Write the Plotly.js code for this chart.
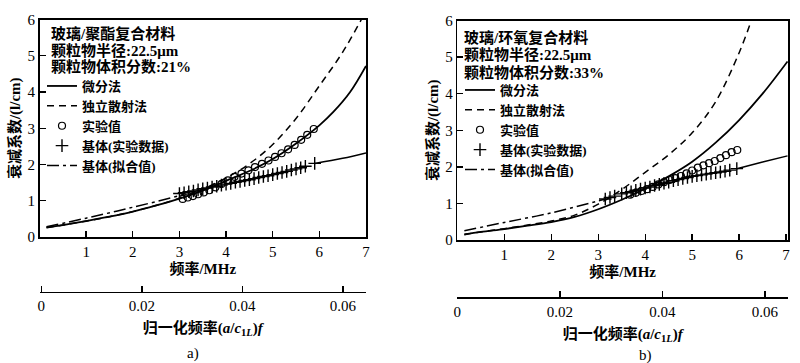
<!DOCTYPE html>
<html>
<head>
<meta charset="utf-8">
<script src="https://cdn.plot.ly/plotly-3.0.1.min.js"></script>
<style>html,body{margin:0;padding:0;background:#fff;}#chart{width:800px;height:363px;}</style>
</head>
<body>
<div id="chart"></div>
<script>
// ---------- Data ----------
// Panel a) glass / polyester, volume fraction 21%
const fA_diff = [0.15,0.5,1,1.5,2,2.5,3,3.5,4,4.5,5,5.5,6,6.3,6.66,7.0];
const aA_diff = [0.26,0.33,0.44,0.56,0.70,0.87,1.06,1.28,1.55,1.82,2.15,2.58,3.08,3.45,4.0,4.72];
const fA_ind  = [0.15,0.5,1,1.5,2,2.5,3,3.5,4,4.5,5,5.5,6,6.5,6.9];
const aA_ind  = [0.26,0.33,0.44,0.56,0.70,0.87,1.07,1.32,1.63,2.02,2.55,3.27,4.17,5.1,6.0];
const fA_exp  = [3.07,3.18,3.29,3.40,3.52,3.64,3.77,3.90,4.04,4.18,4.33,4.48,4.62,4.77,4.91,5.05,5.19,5.33,5.47,5.61,5.74,5.88];
const aA_exp  = [1.05,1.09,1.13,1.18,1.23,1.29,1.37,1.46,1.56,1.66,1.75,1.84,1.93,2.02,2.11,2.21,2.31,2.42,2.54,2.68,2.82,2.98];
const fA_mat  = [3.0,3.1,3.2,3.3,3.4,3.5,3.6,3.7,3.8,3.9,4.0,4.1,4.2,4.3,4.4,4.5,4.6,4.7,4.8,4.9,5.0,5.1,5.2,5.3,5.4,5.5,5.6,5.7,5.9];
const aA_mat  = [1.20,1.22,1.25,1.27,1.30,1.33,1.35,1.38,1.40,1.43,1.46,1.48,1.51,1.53,1.56,1.58,1.61,1.64,1.67,1.69,1.72,1.75,1.78,1.81,1.85,1.88,1.91,1.95,2.03];
const fA_fit  = [0.15,1,2,3,3.1];
const aA_fit  = [0.28,0.52,0.82,1.14,1.18];
const fA_fitEnd = [5.9,6.5,7.0];
const aA_fitEnd = [2.03,2.17,2.32];

// Panel b) glass / epoxy, volume fraction 33%
const fB_diff = [0.15,0.5,1,1.5,2,2.5,3,3.5,4,4.5,5,5.5,6,6.5,7.03];
const aB_diff = [0.15,0.22,0.30,0.39,0.49,0.63,0.84,1.10,1.40,1.74,2.14,2.66,3.28,4.0,4.88];
const fB_ind  = [0.15,0.5,1,1.5,2,2.5,3,3.5,4,4.5,5,5.5,6,6.26];
const aB_ind  = [0.15,0.22,0.31,0.41,0.52,0.68,0.98,1.38,1.85,2.33,2.93,3.78,5.12,6.0];
const fB_exp  = [3.68,3.80,3.92,4.04,4.16,4.28,4.40,4.52,4.64,4.76,4.88,5.00,5.12,5.24,5.36,5.48,5.60,5.72,5.84,5.96];
const aB_exp  = [1.24,1.29,1.34,1.39,1.45,1.52,1.58,1.64,1.69,1.75,1.82,1.90,1.98,2.04,2.10,2.16,2.24,2.32,2.40,2.46];
const fB_mat  = [3.15,3.25,3.35,3.5,3.6,3.7,3.8,3.9,4.0,4.1,4.2,4.3,4.4,4.5,4.6,4.7,4.8,4.9,5.0,5.1,5.2,5.3,5.4,5.5,5.6,5.7,5.8,5.95];
const aB_mat  = [1.12,1.16,1.20,1.26,1.29,1.32,1.36,1.39,1.42,1.45,1.49,1.52,1.55,1.58,1.62,1.65,1.68,1.71,1.74,1.76,1.78,1.80,1.82,1.84,1.86,1.88,1.91,1.95];
const fB_fit  = [0.15,1,2,3,3.15];
const aB_fit  = [0.25,0.48,0.74,1.07,1.12];
const fB_fitEnd = [5.95,6.5,7.03];
const aB_fitEnd = [1.95,2.13,2.30];

// Tick labels
const freqTicks = [1,2,3,4,5,6,7];
const attTicks  = [0,1,2,3,4,5,6];
const normTicks = [0,0.02,0.04,0.06];
const normTickText = ['0','0.02','0.04','0.06'];

// Texts
const names = ['微分法','独立散射法','实验值','基体(实验数据)','基体(拟合值)'];
const headA = ['玻璃/聚酯复合材料','颗粒物半径:22.5μm','颗粒物体积分数:21%'];
const headB = ['玻璃/环氧复合材料','颗粒物半径:22.5μm','颗粒物体积分数:33%'];
const xTitle = '频率/MHz';
const yTitle = '衰减系数/(l/cm)';
const nTitle = '归一化频率(<i>a</i>/<i>c</i><sub>1<i>L</i></sub>)<i>f</i>';

// ---------- Styling ----------
const FONT = '"Liberation Serif", "Noto Sans CJK SC", serif';
const CJK = '"Liberation Serif", "Noto Sans CJK SC", serif';
const BLACK = '#000';

function panelTraces(xa, ya, lg, d) {
  const common = {xaxis: xa, yaxis: ya, legend: lg, type: 'scatter', hoverinfo: 'skip'};
  return [
    Object.assign({}, common, {x: d.fDiff, y: d.aDiff, mode: 'lines', name: names[0],
      line: {color: BLACK, width: 1.8, shape: 'spline'}}),
    Object.assign({}, common, {x: d.fInd, y: d.aInd, mode: 'lines', name: names[1],
      line: {color: BLACK, width: 1.5, dash: '7px,5px', shape: 'spline'}}),
    Object.assign({}, common, {x: d.fExp, y: d.aExp, mode: 'markers', name: names[2],
      marker: {symbol: 'circle-open', size: 7, color: BLACK, line: {width: 1.2, color: BLACK}}}),
    Object.assign({}, common, {x: d.fMat, y: d.aMat, mode: 'markers', name: names[3],
      marker: {symbol: 'cross-thin-open', size: 9, color: BLACK, line: {width: 1.4, color: BLACK}}}),
    Object.assign({}, common, {x: d.fFit, y: d.aFit, mode: 'lines', name: names[4],
      line: {color: BLACK, width: 1.5, dash: '12px,4px,3px,4px', shape: 'spline'}}),
    Object.assign({}, common, {x: d.fFitEnd, y: d.aFitEnd, mode: 'lines', showlegend: false,
      line: {color: BLACK, width: 1.5, shape: 'spline'}})
  ];
}

const traces = [].concat(
  panelTraces('x', 'y', 'legend', {fDiff: fA_diff, aDiff: aA_diff, fInd: fA_ind, aInd: aA_ind,
    fExp: fA_exp, aExp: aA_exp, fMat: fA_mat, aMat: aA_mat, fFit: fA_fit, aFit: aA_fit,
    fFitEnd: fA_fitEnd, aFitEnd: aA_fitEnd}),
  panelTraces('x2', 'y2', 'legend2', {fDiff: fB_diff, aDiff: aB_diff, fInd: fB_ind, aInd: aB_ind,
    fExp: fB_exp, aExp: aB_exp, fMat: fB_mat, aMat: aB_mat, fFit: fB_fit, aFit: aB_fit,
    fFitEnd: fB_fitEnd, aFitEnd: aB_fitEnd}),
  [
    {x: [], y: [], xaxis: 'x3', yaxis: 'y', type: 'scatter', mode: 'markers', showlegend: false, hoverinfo: 'skip'},
    {x: [], y: [], xaxis: 'x4', yaxis: 'y2', type: 'scatter', mode: 'markers', showlegend: false, hoverinfo: 'skip'}
  ]
);

function mainX(domain, range, anchor) {
  return {domain: domain, range: range, anchor: anchor, tickmode: 'array', tickvals: freqTicks,
    ticks: 'inside', ticklen: 6, tickwidth: 1.4, tickcolor: BLACK,
    showline: true, linewidth: 1.5, linecolor: BLACK, mirror: true,
    showgrid: false, zeroline: false, tickfont: {family: FONT, size: 15, color: BLACK},
    title: {text: xTitle, font: {family: CJK, size: 15, color: BLACK, weight: 'bold'}, standoff: 0}};
}
function mainY(domain, anchor) {
  return {domain: domain, range: [0, 6], anchor: anchor, tickmode: 'array', tickvals: attTicks,
    ticks: 'inside', ticklen: 6, tickwidth: 1.4, tickcolor: BLACK,
    showline: true, linewidth: 1.5, linecolor: BLACK, mirror: true,
    showgrid: false, zeroline: false, tickfont: {family: FONT, size: 15, color: BLACK},
    title: {text: yTitle, font: {family: CJK, size: 15, color: BLACK, weight: 'bold'}, standoff: 3}};
}
function normX(over, position, range) {
  return {overlaying: over, anchor: 'free', position: position, side: 'bottom', range: range,
    tickmode: 'array', tickvals: normTicks, ticktext: normTickText,
    ticks: 'inside', ticklen: 6, tickwidth: 1.4, tickcolor: BLACK,
    showline: true, linewidth: 1.5, linecolor: BLACK, showgrid: false, zeroline: false,
    tickfont: {family: FONT, size: 15, color: BLACK},
    title: {text: nTitle, font: {family: CJK, size: 15, color: BLACK, weight: 'bold'}, standoff: 9}};
}

function header(lines, x, ys) {
  return lines.map((t, i) => ({text: t, xref: 'paper', yref: 'paper', x: x / 800, y: 1 - ys[i] / 363,
    xanchor: 'left', yanchor: 'middle', showarrow: false,
    font: {family: CJK, size: 15, color: BLACK, weight: 'bold'}}));
}

const legendStyle = (x, y) => ({x: x / 800, y: 1 - y / 363, xanchor: 'left', yanchor: 'top',
  bgcolor: 'rgba(0,0,0,0)', font: {family: CJK, size: 13, color: BLACK, weight: 'bold'},
  tracegroupgap: 0, itemwidth: 30});

const layout = {
  width: 800, height: 363,
  margin: {l: 0, r: 0, t: 0, b: 0},
  paper_bgcolor: '#fff', plot_bgcolor: 'rgba(0,0,0,0)',
  font: {family: FONT, color: BLACK, size: 14},
  showlegend: true,
  xaxis: mainX([39.5 / 800, 366 / 800], [0, 7.0], 'y'),
  yaxis: mainY([1 - 237 / 363, 1 - 19.5 / 363], 'x'),
  xaxis2: mainX([457.3 / 800, 788 / 800], [0, 7.04], 'y2'),
  yaxis2: mainY([1 - 240 / 363, 1 - 20.5 / 363], 'x2'),
  xaxis3: normX('x', 1 - 291.7 / 363, [-0.00035, 0.0646]),
  xaxis4: normX('x2', 1 - 297.3 / 363, [0, 0.0645]),
  legend: legendStyle(42, 71),
  legend2: legendStyle(460, 75),
  annotations: [].concat(
    header(headA, 49, [33, 50, 67]),
    header(headB, 462, [37, 55, 72]),
    [
      {text: 'a)', xref: 'paper', yref: 'paper', x: 193 / 800, y: 1 - 353 / 363, showarrow: false,
        xanchor: 'center', yanchor: 'middle', font: {family: FONT, size: 15, color: BLACK}},
      {text: 'b)', xref: 'paper', yref: 'paper', x: 645 / 800, y: 1 - 355 / 363, showarrow: false,
        xanchor: 'center', yanchor: 'middle', font: {family: FONT, size: 15, color: BLACK}}
    ]
  )
};

Plotly.newPlot('chart', traces, layout, {displayModeBar: false, staticPlot: true});
</script>
</body>
</html>
